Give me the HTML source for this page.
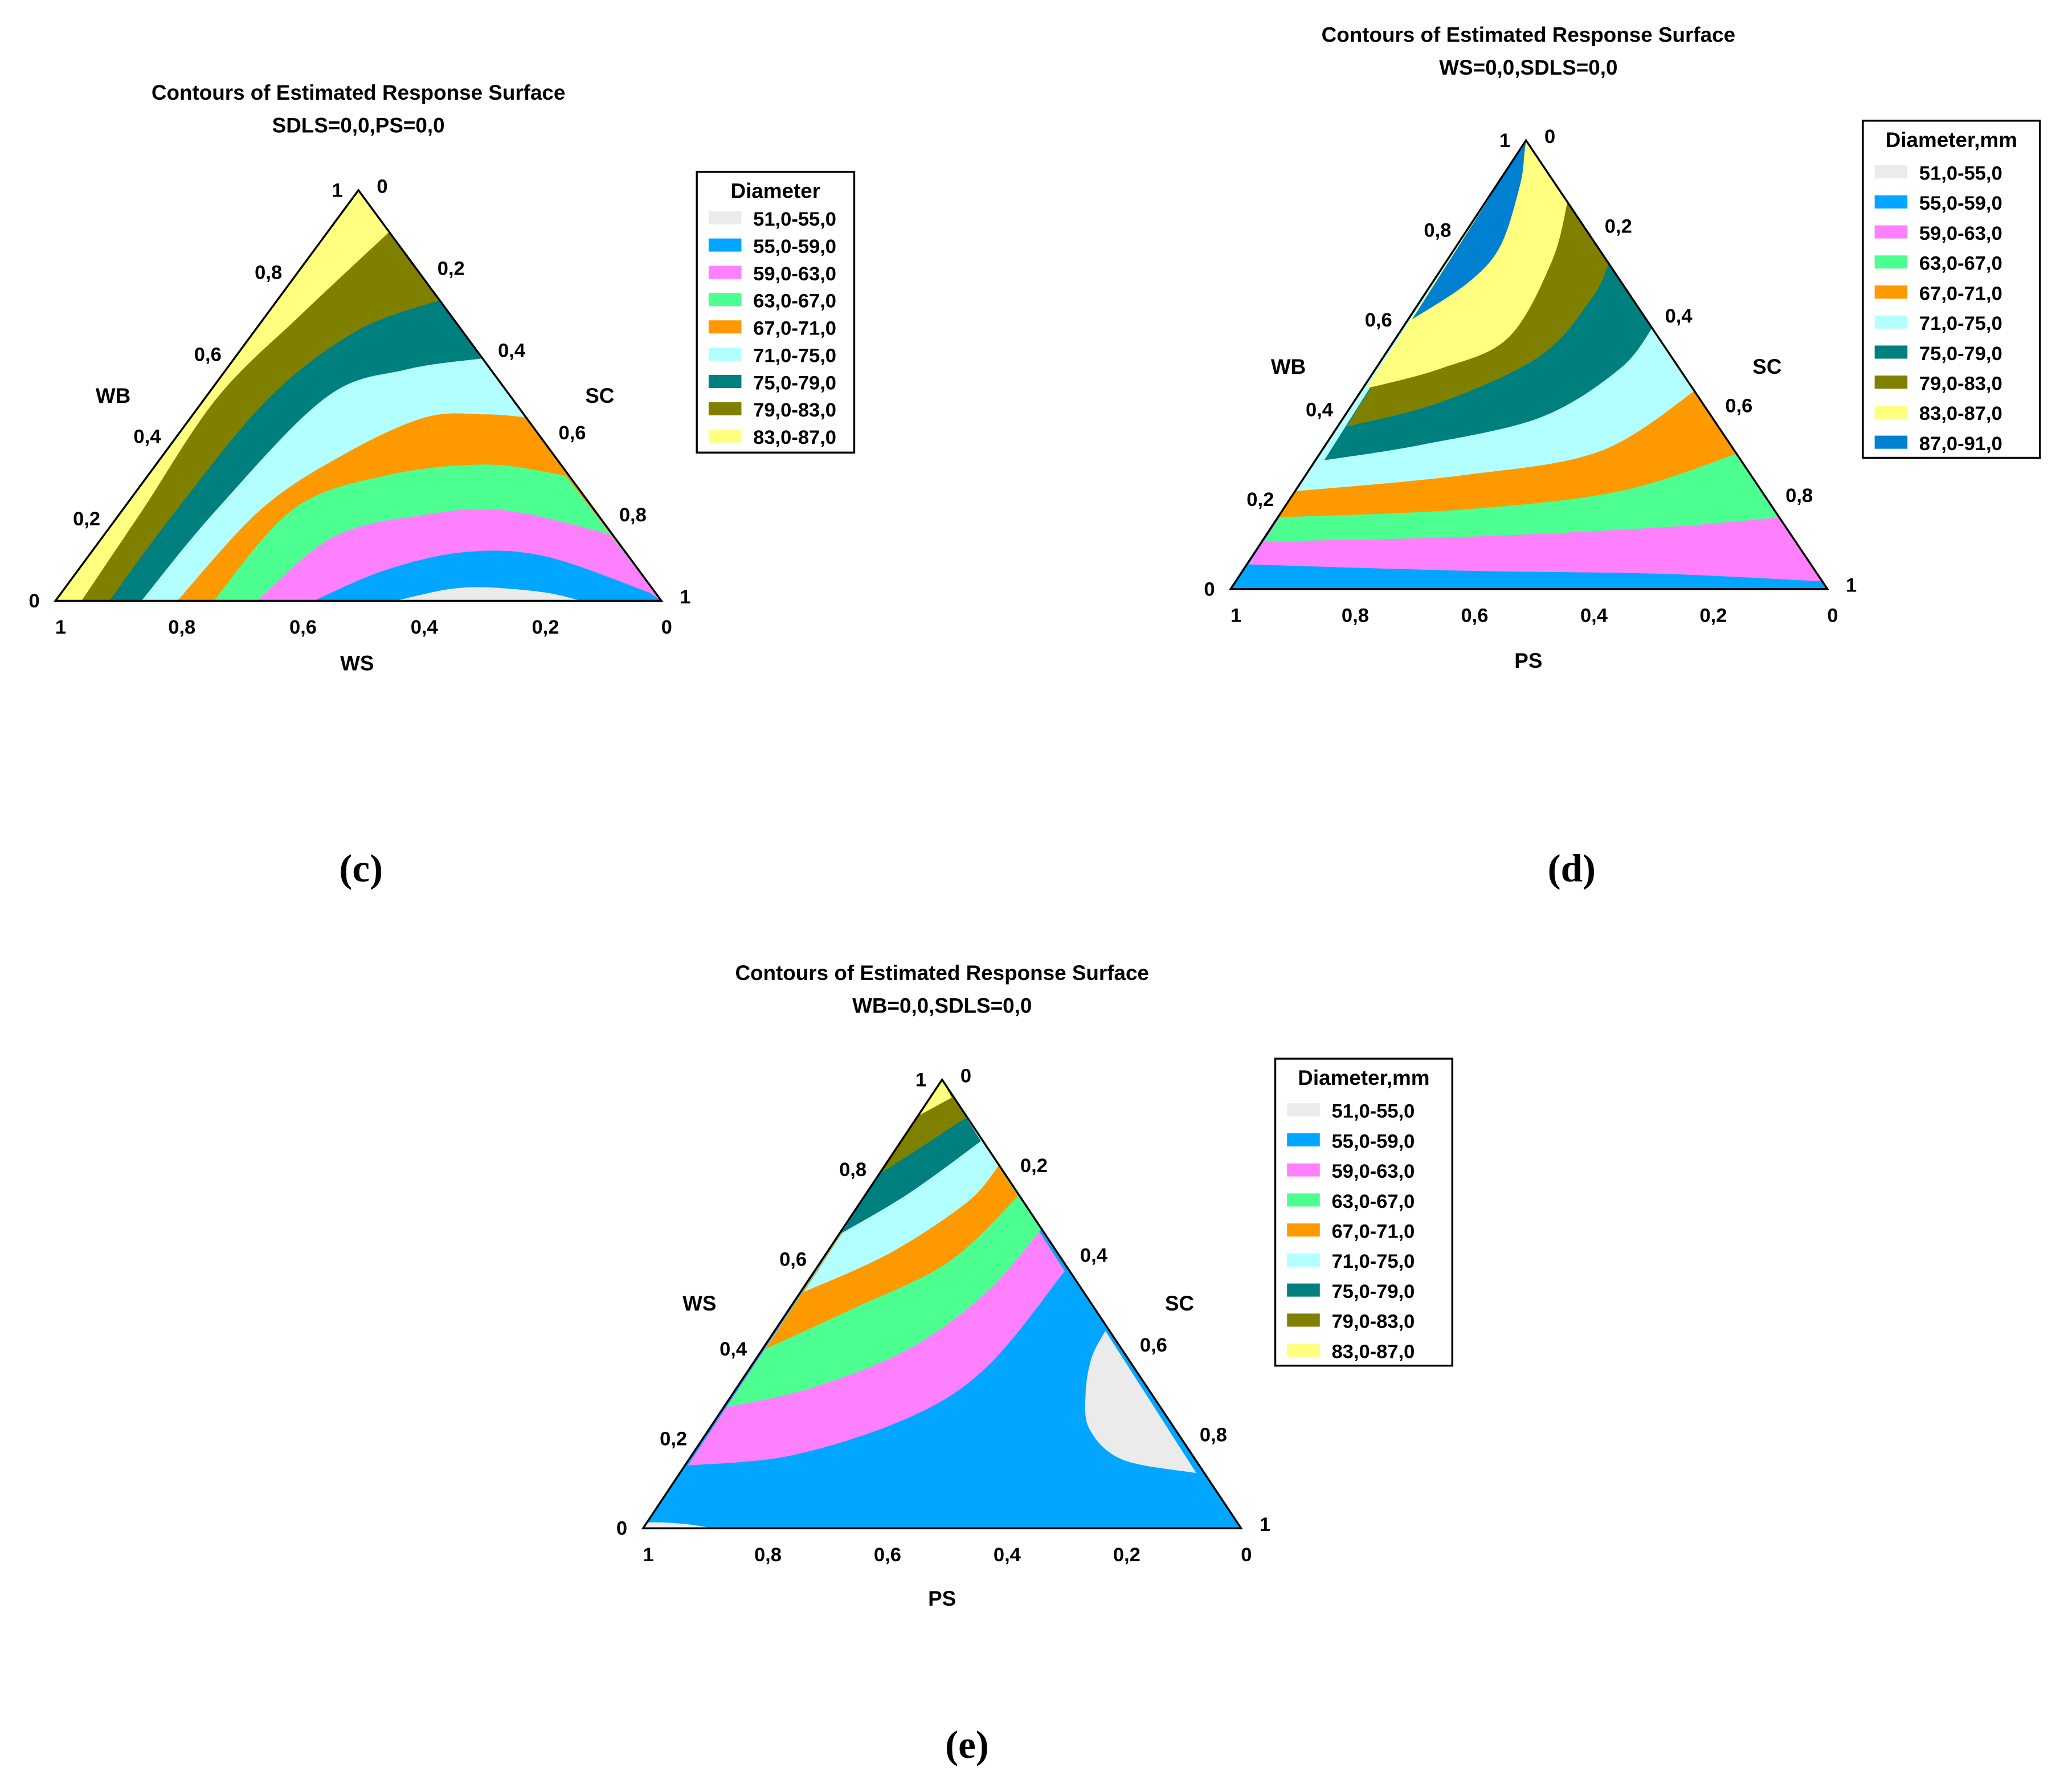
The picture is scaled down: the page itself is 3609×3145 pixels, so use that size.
<!DOCTYPE html>
<html><head><meta charset="utf-8">
<style>
html,body{margin:0;padding:0;background:#fff;}
svg{display:block;}
text{font-family:"Liberation Sans",Arial,sans-serif;font-weight:bold;fill:#000;}
.cap{font-family:"Liberation Serif",serif;font-size:30px;}
</style></head>
<body>
<svg id="fig" width="3609" height="3145" viewBox="0 0 1567 1366" xmlns="http://www.w3.org/2000/svg">
<rect width="1567" height="1366" fill="#fff"/>
</svg>
<script>
const NS='http://www.w3.org/2000/svg';
const svg=document.getElementById('fig');
const legendLabels=['51,0-55,0','55,0-59,0','59,0-63,0','63,0-67,0','67,0-71,0','71,0-75,0','75,0-79,0','79,0-83,0','83,0-87,0','87,0-91,0'];
const bandColors=['#ebebeb','#00a6ff','#ff80ff','#4dff91','#ff9900','#b3ffff','#007f7f','#808000','#ffff80','#0080d0'];
const sideTicks=['0','0,2','0,4','0,6','0,8','1'];

const cBase=8;
const cBands=[7,6,5,4,3,2,1,0];
const cCurves=[
 [[.043,0],[.145,.224],[.267,.495],[.406,.698],[.561,.912]],
 [[.089,0],[.201,.224],[.353,.495],[.498,.658],[.634,.732]],
 [[.142,0],[.267,.224],[.446,.495],[.578,.563],[.703,.59]],
 [[.201,0],[.34,.224],[.479,.359],[.611,.447],[.71,.454],[.776,.447]],
 [[.261,0],[.393,.224],[.545,.305],[.71,.332],[.842,.305]],
 [[.333,0],[.459,.156],[.611,.21],[.743,.22],[.914,.163]],
 [[.426,0],[.545,.075],[.677,.119],[.809,.108],[.98,.02]],
 [[.561,0],[.644,.027],[.71,.033],[.809,.02],[.868,0]]
];
const dBase=1;
const dBands=[2,3,4,5,6,7,8,9];
const dCurves=[
 [[.03,.055],[.385,.041],[.719,.034],[.993,.017]],
 [[.056,.106],[.385,.116],[.719,.137],[.923,.16]],
 [[.08,.16],[.385,.177],[.652,.218],[.853,.304]],
 [[.11,.218],[.385,.253],[.619,.307],[.783,.447]],
 [[.157,.287],[.318,.321],[.518,.382],[.652,.491],[.709,.587]],
 [[.194,.362],[.351,.416],[.518,.519],[.605,.648],[.635,.73]],
 [[.227,.447],[.351,.491],[.465,.56],[.538,.73],[.565,.867]],
 [[.304,.601],[.398,.683],[.452,.765],[.485,.901],[.492,.969]]
];
const eBase=1;
const eBands=[2,3,4,5,6,7,8];
const eCurves=[
 [[.075,.14],[.25,.163],[.445,.247],[.575,.36],[.705,.573]],
 [[.14,.27],[.282,.313],[.445,.40],[.575,.527],[.666,.667]],
 [[.205,.40],[.347,.487],[.51,.593],[.627,.74]],
 [[.269,.527],[.412,.613],[.542,.727],[.594,.807]],
 [[.331,.657],[.445,.747],[.565,.863]],
 [[.399,.793],[.477,.86],[.542,.917]],
 [[.461,.92],[.516,.96]]
];
const eGrayRight=[[.773,.44],[.75,.38],[.74,.30],[.747,.22],[.802,.153],[.925,.123]];
const eGrayLeft=[[0,0],[.01,.013],[.068,.01],[.117,0]];

function el(tag,attrs,parent){const e=document.createElementNS(NS,tag);for(const k in attrs)e.setAttribute(k,attrs[k]);(parent||svg).appendChild(e);return e;}
function txt(s,x,y,size,anchor,parent,name){const t=el('text',{x:x,y:y,'font-size':size,'text-anchor':anchor||'middle'},parent);t.textContent=s;


return t;}
// smooth path through points (Catmull-Rom), then straight lines through closing points
function smoothPath(pts,closePts){
  let d='M'+pts[0][0].toFixed(1)+','+pts[0][1].toFixed(1);
  for(let i=0;i<pts.length-1;i++){
    const p0=pts[Math.max(i-1,0)],p1=pts[i],p2=pts[i+1],p3=pts[Math.min(i+2,pts.length-1)];
    const c1=[p1[0]+(p2[0]-p0[0])/6,p1[1]+(p2[1]-p0[1])/6];
    const c2=[p2[0]-(p3[0]-p1[0])/6,p2[1]-(p3[1]-p1[1])/6];
    d+=' C'+c1.map(v=>v.toFixed(1)).join(',')+' '+c2.map(v=>v.toFixed(1)).join(',')+' '+p2.map(v=>v.toFixed(1)).join(',');
  }
  closePts.forEach(p=>{d+=' L'+p[0].toFixed(1)+','+p[1].toFixed(1);});
  return d+' Z';
}

function panel(id,P,bands,curves,baseIdx,mode,title1,title2,labels,legend,nLeg,legTitle,cap){
  const g=el('g',{});
  
  
  const W=P.br-P.bl, H=P.by-P.ay;
  const X=u=>P.bl+u*W, Y=v=>P.by-v*H;
  const px=p=>[X(p[0]),Y(p[1])];
  const pt=p=>X(p[0]).toFixed(1)+','+Y(p[1]).toFixed(1);
  const tri=[[0,0],[P.au,1],[1,0]];
  const cp=el('clipPath',{id:'clip-'+id},g);
  el('polygon',{points:tri.map(pt).join(' ')},cp);
  const fg=el('g',{'clip-path':'url(#clip-'+id+')'},g);
  const base=el('polygon',{points:tri.map(pt).join(' '),fill:bandColors[baseIdx]},fg);
  
  
  curves.forEach((c,i)=>{
    const closeP = mode==='below' ? [[1,0]] : [[P.au,1]];
    const path=el('path',{d:smoothPath(c.map(px),closeP.map(px)),fill:bandColors[bands[i]]},fg);
    
    
  });
  if(id==='e'){
    [eGrayRight,eGrayLeft].forEach(c=>{
      const path=el('path',{d:smoothPath(c.map(px),[]),fill:bandColors[0]},fg);
      
      
    });
  }
  const outline=el('polygon',{points:tri.map(pt).join(' '),fill:'none',stroke:'#000','stroke-width':1.5},g);
  
  
  txt(title1,P.tx,P.ty,16,'middle',g,'chart-title');
  txt(title2,P.tx,P.ty+25,16,'middle',g,'chart-subtitle');
  const ax=P.bl,ay=P.by,tx=X(P.au),ty=P.ay;
  for(let i=0;i<6;i++){
    const f=i/5;
    txt(sideTicks[i],ax+(tx-ax)*f-12,ay-(ay-ty)*f+5,15,'end',g,'left-tick');
    txt(sideTicks[i],tx+(P.br-tx)*f+14,ty+(ay-ty)*f+2,15,'start',g,'right-tick');
    txt(sideTicks[5-i],ax+W*f+4,ay+25,15,'middle',g,'bottom-tick');
  }
  txt(labels[0],P.lx[0],P.lx[1],16,'middle',g,'left-axis-title');
  txt(labels[1],P.rx[0],P.rx[1],16,'middle',g,'right-axis-title');
  txt(labels[2],P.bx[0],P.bx[1],16,'middle',g,'bottom-axis-title');
  const lg=el('g',{},g);
  
  
  el('rect',{x:legend.x,y:legend.y,width:legend.w,height:legend.h,fill:'#fff',stroke:'#000','stroke-width':1.5},lg);
  txt(legTitle,legend.x+legend.w/2,legend.y+20,16,'middle',lg,'legend-title');
  for(let i=0;i<nLeg;i++){
    const yy=legend.y+legend.y0+i*legend.step;
    const r=el('rect',{x:legend.x+9,y:yy-11,width:25,height:10,fill:bandColors[i]},lg);
    
    
    txt(legendLabels[i],legend.x+43,yy,15,'start',lg,'legend-entry');
  }
  txt(cap[0],cap[1],cap[2],30,'middle',g,'panel-caption').setAttribute('class','cap');
}

panel('c',{bl:42,br:504,by:458,ay:145,au:.5,tx:273,ty:76,lx:[86,307],rx:[457,307],bx:[272,511]},
  cBands,cCurves,cBase,'below','Contours of Estimated Response Surface','SDLS=0,0,PS=0,0',['WB','SC','WS'],
  {x:531,y:131,w:120,h:214,y0:41,step:20.8},9,'Diameter',['(c)',275,672]);
panel('d',{bl:938,br:1393,by:449,ay:107,au:.495,tx:1165,ty:32,lx:[982,285],rx:[1347,285],bx:[1165,509]},
  dBands,dCurves,dBase,'above','Contours of Estimated Response Surface','WS=0,0,SDLS=0,0',['WB','SC','PS'],
  {x:1420,y:92,w:135,h:257,y0:45,step:22.9},10,'Diameter,mm',['(d)',1198,672]);
panel('e',{bl:490,br:946,by:1165,ay:823,au:.5,tx:718,ty:747,lx:[533,999],rx:[899,999],bx:[718,1224]},
  eBands,eCurves,eBase,'above','Contours of Estimated Response Surface','WB=0,0,SDLS=0,0',['WS','SC','PS'],
  {x:972,y:807,w:135,h:234,y0:45,step:22.9},9,'Diameter,mm',['(e)',737,1340]);
</script>
</body></html>
